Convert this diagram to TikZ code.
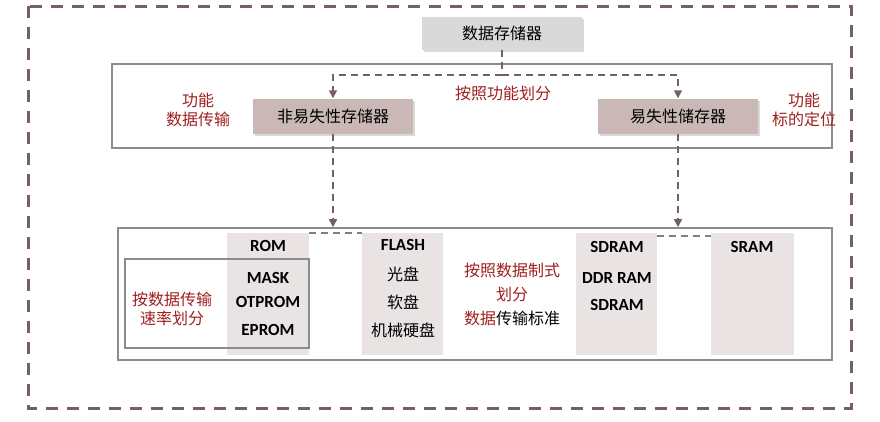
\documentclass[tikz,border=0pt]{standalone}
\usepackage{fontspec}
\setmainfont{Carlito}
\newfontfamily\cjk{Noto Sans CJK SC}
\usetikzlibrary{arrows.meta,shadows}
\definecolor{dred}{HTML}{A01E1E}
\definecolor{dashc}{HTML}{75625F}
\definecolor{pinkbox}{HTML}{C9B8B6}
\definecolor{col}{HTML}{EAE3E3}
\tikzset{
 txt/.style={font=\cjk\fontsize{16}{19}\selectfont},
 lat/.style={font=\bfseries\fontsize{17}{19}\selectfont},
 redt/.style={txt,text=dred,align=center},
 dsh/.style={draw=dashc,line width=3pt,dash pattern=on 12pt off 9pt},
 arr/.style={draw=dashc,line width=1.6pt,dash pattern=on 7pt off 5pt,-{Triangle[width=8pt,length=8pt]}},
 frame/.style={draw=gray!90,line width=1.6pt},
}
\begin{document}
\begin{tikzpicture}[x=1pt,y=-1pt]
\useasboundingbox (0,0) rectangle (880,421);
\draw[dsh] (28,6) rectangle (851,408);
\node[fill=gray!30,minimum width=160pt,minimum height=33pt,txt,drop shadow={opacity=0.3}] (top) at (502,33) {数据存储器};
\node[frame,minimum width=720pt,minimum height=84pt,inner sep=0] (b1) at (472,106) {};
\node[fill=pinkbox,minimum width=160pt,minimum height=35pt,txt,drop shadow={opacity=0.3}] (nv) at (333,116) {非易失性存储器};
\node[fill=pinkbox,minimum width=160pt,minimum height=35pt,txt,drop shadow={opacity=0.3}] (vo) at (678,116) {易失性储存器};
\coordinate (jn) at (502,75);
\draw[draw=dashc,line width=1.6pt,dash pattern=on 7pt off 5pt] (top.south) -- (jn);
\draw[arr] (jn) -| (nv.north);
\draw[arr] (jn) -| (vo.north);
\node[redt] (l1) at (503,93) {按照功能划分};
\node[redt,inner sep=0] (l2) at (198,110) {功能\\数据传输};
\node[redt,inner sep=0] (l3) at (804,110) {功能\\标的定位};
\node[frame,minimum width=714pt,minimum height=132pt,inner sep=0] (b2) at (475,294) {};
\draw[arr] (nv.south) -- (nv.south |- b2.north);
\draw[arr] (vo.south) -- (vo.south |- b2.north);
\fill[col] (227,233) rectangle (309,355);
\fill[col] (362,233) rectangle (443,355);
\fill[col] (576,233) rectangle (657,355);
\fill[col] (711,233) rectangle (794,355);
\coordinate (d1) at (309,233); \coordinate (d2) at (362,233);
\coordinate (d3) at (657,236); \coordinate (d4) at (711,236);
\draw[gray,line width=1.6pt,dash pattern=on 7pt off 5pt] (d1) -- (d2);
\draw[gray,line width=1.6pt,dash pattern=on 7pt off 5pt] (d3) -- (d4);
\node[frame,minimum width=184pt,minimum height=89pt,inner sep=0] (ib) at (217,303.5) {};
\node[lat] (rom) at (268,246) {ROM};
\node[lat] (mask) at (268,278) {MASK};
\node[lat] (otp) at (268,302) {OTPROM};
\node[lat] (ep) at (268,330) {EPROM};
\node[lat] (fl) at (403,245) {FLASH};
\node[txt] (gp) at (403,274) {光盘};
\node[txt] (rp) at (403,302) {软盘};
\node[txt] (jx) at (403,330) {机械硬盘};
\node[redt] (z1) at (512,270) {按照数据制式};
\node[redt] (z2) at (512,294) {划分};
\node[txt] (z3) at (512,318) {\textcolor{dred}{数据}传输标准};
\node[lat] (s1) at (617,247) {SDRAM};
\node[lat] (s2) at (617,278) {DDR RAM};
\node[lat] (s3) at (617,305) {SDRAM};
\node[lat] (s4) at (752,247) {SRAM};
\node[redt,inner sep=0] (sp) at (172,309) {按数据传输\\速率划分};
\end{tikzpicture}
\end{document}
